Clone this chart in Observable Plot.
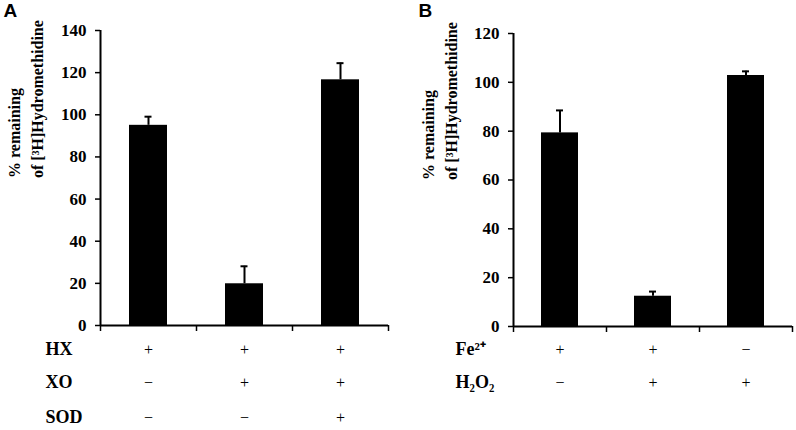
<!DOCTYPE html>
<html>
<head>
<meta charset="utf-8">
<script src="https://cdn.jsdelivr.net/npm/d3@7"></script>
<script src="https://cdn.jsdelivr.net/npm/@observablehq/plot@0.6"></script>
<style>
  html, body { margin: 0; padding: 0; background: #fff; }
  #wrap { position: relative; width: 796px; height: 430px; overflow: hidden; }
  .panel { position: absolute; top: 0; }
  #wrap g[aria-label="y-axis tick label"] { font-family: 'Liberation Serif', 'Times New Roman', serif; font-weight: bold; }
</style>
</head>
<body>
<div id="wrap">
  <div id="pa" class="panel" style="left:0px"></div>
  <div id="pb" class="panel" style="left:400px"></div>
</div>
<script>
// ---- Data ----
const panelLetters = ["A", "B"];
const yLabel = "% remaining\nof [³H]Hydromethidine";

// Panel A
const meansA = [95, 19.8, 116.6];
const errorsA = [4.1, 8.3, 7.9];
const yTicksA = [0, 20, 40, 60, 80, 100, 120, 140];
const factorsA = ["HX", "XO", "SOD"];
const signsA = [
  ["+", "+", "+"],
  ["−", "+", "+"],
  ["−", "−", "+"]
];

// Panel B
const meansB = [79.3, 12.4, 102.8];
const errorsB = [9.2, 1.9, 1.7];
const yTicksB = [0, 20, 40, 60, 80, 100, 120];
const factorsB = ["Fe²⁺", "H₂O₂"];
const signsB = [
  ["+", "+", "−"],
  ["−", "+", "+"]
];

const serif = "'Liberation Serif', 'Times New Roman', serif";
const sans = "'Liberation Sans', Arial, sans-serif";

function panel({letter, letterDx, means, errors, yTicks, factors, signs, width, marginLeft, marginRight, marginTop, marginBottom, inset, labelDx, rowDy, rowLabelDx}) {
  const bars = means.map((v, i) => ({i, v, e: errors[i]}));
  const n = means.length;
  const table = [];
  signs.forEach((row, r) => row.forEach((s, i) => table.push({r, i, s})));
  const yMax = yTicks[yTicks.length - 1];

  const marks = [
    // bars
    Plot.rectY(bars, {x1: "i", x2: d => d.i + 1, y: "v", insetLeft: inset, insetRight: inset, fill: "#000"}),
    // error bars (upper only)
    Plot.ruleX(bars, {x: d => d.i + 0.5, y1: "v", y2: d => d.v + d.e, stroke: "#000", strokeWidth: 2}),
    Plot.ruleY(bars, {y: d => d.v + d.e, x1: d => d.i + 0.5, x2: d => d.i + 0.5, insetLeft: -3.5, insetRight: -3.5, stroke: "#000", strokeWidth: 2}),
    // axes
    Plot.axisY({ticks: yTicks, label: null, tickSize: 5, tickPadding: 9, fontSize: 17, fontWeight: "bold", fontFamily: serif, fill: "#000", stroke: "#000", strokeWidth: 1.5}),
    Plot.ruleX([0], {y1: 0, y2: yMax, stroke: "#000", strokeWidth: 2}),
    Plot.ruleY([0], {stroke: "#000", strokeWidth: 2}),
    Plot.axisX({ticks: d3.range(n + 1), label: null, tickFormat: () => "", tickSize: 6, stroke: "#000", strokeWidth: 1.5}),
    // y label
    Plot.text([yLabel], {frameAnchor: "left", rotate: -90, dx: labelDx, fontSize: 16, fontWeight: "bold", fontFamily: serif, lineHeight: 1.4, fill: "#000"}),
    // panel letter
    Plot.text([letter], {frameAnchor: "top-left", textAnchor: "start", lineAnchor: "top", dx: -marginLeft + letterDx, dy: -marginTop + 3, fontSize: 19, fontWeight: "bold", fontFamily: sans, fill: "#000"})
  ];
  // treatment table rows
  signs.forEach((row, r) => {
    marks.push(Plot.text(table.filter(d => d.r === r), {x: d => d.i + 0.5, frameAnchor: "bottom", dy: rowDy[r], text: "s", fontSize: 16, fontFamily: serif, fill: "#000"}));
    marks.push(Plot.text([factors[r]], {frameAnchor: "bottom-left", textAnchor: "start", dx: rowLabelDx, dy: rowDy[r], fontSize: 18, fontWeight: "bold", fontFamily: serif, fill: "#000"}));
  });

  return Plot.plot({
    width, height: 430,
    marginLeft, marginRight, marginTop, marginBottom,
    style: {background: "#fff", overflow: "visible", fontFamily: serif, color: "#000"},
    x: {domain: [0, n], axis: null},
    y: {domain: [0, yMax], axis: null},
    marks
  });
}

document.getElementById("pa").append(panel({
  letter: panelLetters[0], letterDx: 3, means: meansA, errors: errorsA, yTicks: yTicksA,
  factors: factorsA, signs: signsA,
  width: 400, marginLeft: 100, marginRight: 12, marginTop: 30, marginBottom: 105,
  inset: 29, labelDx: -76, rowDy: [29, 62, 97], rowLabelDx: -55
}));

document.getElementById("pb").append(panel({
  letter: panelLetters[1], letterDx: 18, means: meansB, errors: errorsB, yTicks: yTicksB,
  factors: factorsB, signs: signsB,
  width: 396, marginLeft: 113, marginRight: 4, marginTop: 33, marginBottom: 104,
  inset: 28, labelDx: -75, rowDy: [28, 61], rowLabelDx: -58
}));
</script>
</body>
</html>
